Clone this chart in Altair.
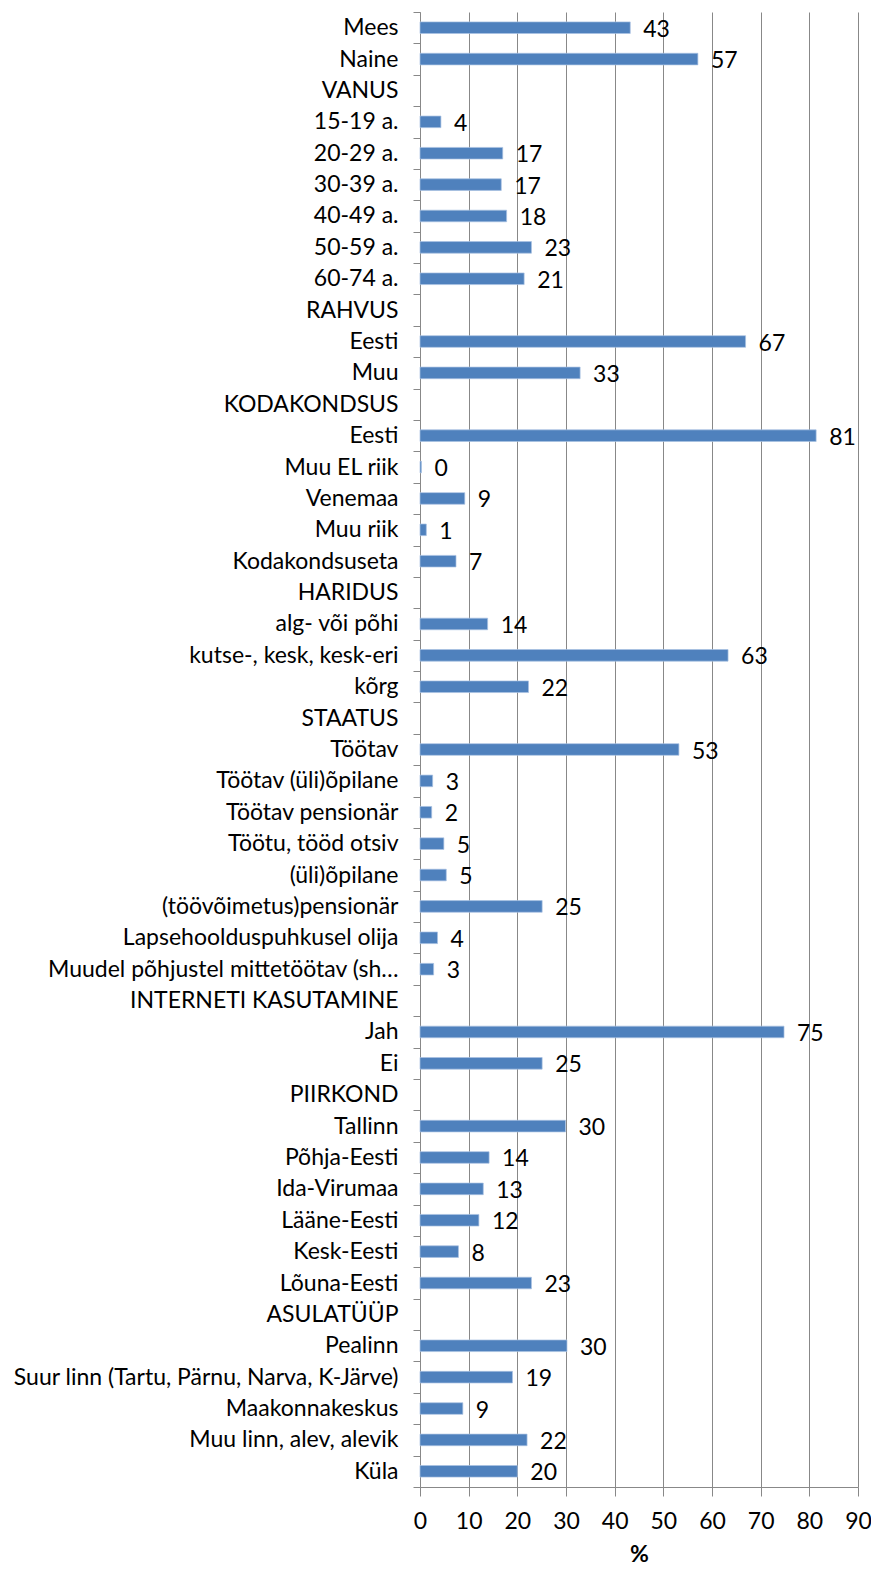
import json
import altair as alt
import pandas as pd

categories = [
    "Mees", "Naine", "VANUS", "15-19 a.", "20-29 a.", "30-39 a.", "40-49 a.",
    "50-59 a.", "60-74 a.", "RAHVUS", "Eesti", "Muu", "KODAKONDSUS", "Eesti",
    "Muu EL riik", "Venemaa", "Muu riik", "Kodakondsuseta", "HARIDUS",
    "alg- või põhi", "kutse-, kesk, kesk-eri", "kõrg", "STAATUS", "Töötav",
    "Töötav (üli)õpilane", "Töötav pensionär", "Töötu, tööd otsiv",
    "(üli)õpilane", "(töövõimetus)pensionär", "Lapsehoolduspuhkusel olija",
    "Muudel põhjustel mittetöötav (sh…", "INTERNETI KASUTAMINE", "Jah", "Ei",
    "PIIRKOND", "Tallinn", "Põhja-Eesti", "Ida-Virumaa", "Lääne-Eesti",
    "Kesk-Eesti", "Lõuna-Eesti", "ASULATÜÜP", "Pealinn",
    "Suur linn (Tartu, Pärnu, Narva, K-Järve)", "Maakonnakeskus",
    "Muu linn, alev, alevik", "Küla",
]

values = [
    43.2, 57.1, None, 4.3, 17.0, 16.7, 17.8,
    22.9, 21.4, None, 66.9, 32.9, None, 81.4,
    0.3, 9.2, 1.3, 7.4, None,
    13.9, 63.3, 22.3, None, 53.2,
    2.6, 2.4, 4.9,
    5.4, 25.1, 3.6,
    2.8, None, 74.8, 25.1,
    None, 29.9, 14.2, 13.0, 12.1,
    7.9, 22.9, None, 30.2,
    19.0, 8.8,
    22.0, 20.0,
]

x_ticks = [0, 10, 20, 30, 40, 50, 60, 70, 80, 90]

n = len(categories)
df = pd.DataFrame({"idx": list(range(n)), "value": values})

FONT = "Lato"
FS = 23
GRAY = "#888888"

label_expr = json.dumps(categories, ensure_ascii=False) + "[datum.value]"

y_enc = alt.Y(
    "idx:O",
    scale=alt.Scale(domain=list(range(n)), paddingInner=0, paddingOuter=0),
    axis=alt.Axis(
        title=None,
        labelExpr=label_expr,
        tickBand="extent",
        tickSize=7,
        tickColor=GRAY,
        domainColor=GRAY,
        labelPadding=15,
        labelFont=FONT,
        labelFontSize=FS,
        labelColor="black",
        labelLimit=0,
        grid=False,
    ),
)

x_enc = alt.X(
    "value:Q",
    scale=alt.Scale(domain=[0, 90], nice=False, zero=True),
    axis=alt.Axis(
        values=x_ticks,
        format="d",
        title="%",
        titleFont=FONT,
        titleFontSize=FS,
        titleFontWeight="bold",
        titleColor="black",
        titlePadding=10,
        grid=True,
        gridColor=GRAY,
        gridOpacity=1,
        tickSize=9,
        tickColor=GRAY,
        domainColor=GRAY,
        labelPadding=14,
        labelFlush=False,
        labelOverlap=False,
        labelFont=FONT,
        labelFontSize=FS,
        labelColor="black",
    ),
)

base = alt.Chart(df).transform_filter("isValid(datum.value)")

bars = base.mark_bar(
    color="#4F81BD",
    height=alt.RelativeBandSize(0.37),
    stroke="#a9c2e3",
    strokeWidth=0.7,
).encode(x=x_enc, y=y_enc)

text = base.mark_text(
    align="left",
    baseline="middle",
    dx=13,
    dy=2,
    font=FONT,
    fontSize=FS,
    color="black",
).encode(x=x_enc, y=y_enc, text=alt.Text("value:Q", format=".0f"))

chart = (
    alt.layer(bars, text)
    .properties(
        width=438,
        height=1475,
        padding={"left": 412, "top": 4, "right": 13, "bottom": 78},
        autosize=alt.AutoSizeParams(type="none"),
        background="white",
    )
    .configure_view(stroke=None)
)

chart.save("out.html", embed_options={"renderer": "svg", "actions": False})
